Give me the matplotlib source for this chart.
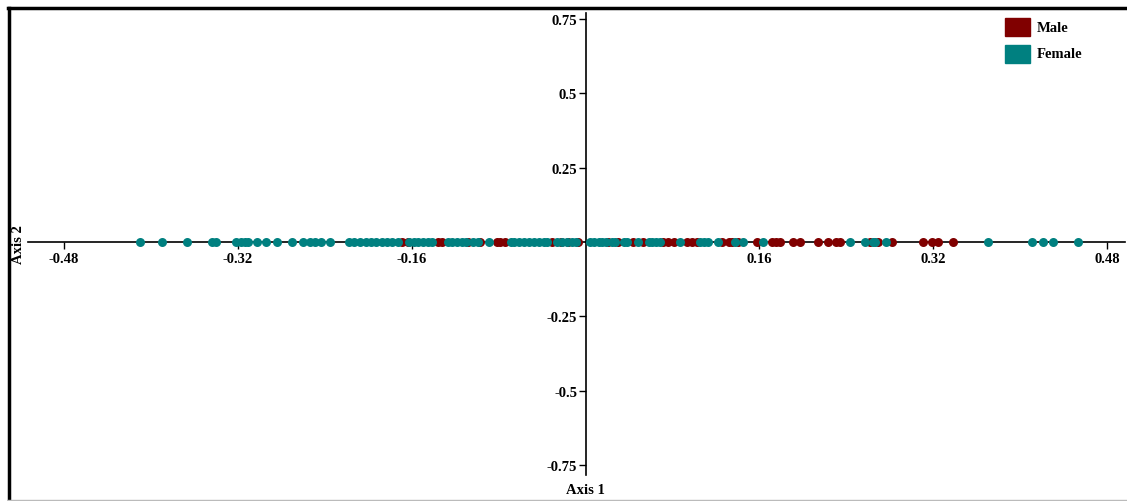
import matplotlib
matplotlib.use("Agg")
import matplotlib.pyplot as plt
from matplotlib.lines import Line2D
from matplotlib.patches import Rectangle

# coordinate sull'asse 1 (tutti i punti stanno su asse 2 = 0)
femmine_x = [
    -0.410, -0.390, -0.367, -0.344, -0.340, -0.322, -0.317, -0.313, -0.311,
    -0.302, -0.294, -0.284, -0.270, -0.260, -0.254, -0.249, -0.243, -0.235,
    -0.218, -0.213, -0.208, -0.202, -0.197, -0.193, -0.187, -0.183, -0.178,
    -0.173, -0.162, -0.158, -0.154, -0.150, -0.145, -0.141, -0.127, -0.123,
    -0.118, -0.114, -0.110, -0.104, -0.099, -0.089, -0.069, -0.066, -0.061,
    -0.057, -0.052, -0.047, -0.043, -0.038, -0.035, -0.026, -0.022, -0.017,
    -0.012, -0.009, 0.004, 0.008, 0.012, 0.015, 0.019, 0.024, 0.027, 0.035,
    0.038, 0.048, 0.058, 0.061, 0.065, 0.069, 0.087, 0.105, 0.109, 0.113,
    0.122, 0.138, 0.145, 0.163, 0.243, 0.257, 0.265, 0.266, 0.277, 0.370,
    0.411, 0.421, 0.430, 0.453,
]
maschi_x = [
    -0.169, -0.163, -0.136, -0.132, -0.108, -0.097, -0.081, -0.079, -0.074,
    -0.031, -0.023, -0.016, -0.007, 0.021, 0.030, 0.044, 0.053, 0.071, 0.076,
    0.081, 0.093, 0.098, 0.103, 0.126, 0.132, 0.135, 0.140, 0.158, 0.172,
    0.175, 0.179, 0.191, 0.197, 0.214, 0.223, 0.231, 0.234, 0.262, 0.269,
    0.282, 0.311, 0.319, 0.324, 0.338,
]
x_ticks = [-0.48, -0.32, -0.16, 0.16, 0.32, 0.48]
y_ticks = [-0.75, -0.5, -0.25, 0.25, 0.5, 0.75]
y_labels = ["-0.75", "-0.5", "-0.25", "0.25", "0.5", "0.75"]

colore_m = "#800000"
colore_f = "#008080"
font = {"family": "Liberation Serif", "weight": "bold", "size": 10.5}

W, H = 1127, 502
fig = plt.figure(figsize=(W / 100, H / 100), dpi=100)
ax = fig.add_axes([0, 0, 1, 1])
ax.patch.set_alpha(0)

# limiti ricavati dalla scala in pixel del riferimento
sx, x0 = 1086.5, 585.5
sy, y0 = 297.3, 243
ax.set_xlim(-x0 / sx, (W - x0) / sx)
ax.set_ylim(-(H - y0) / sy, y0 / sy)

ax.scatter(maschi_x, [0] * len(maschi_x), s=42, color=colore_m, zorder=3, linewidths=0)
ax.scatter(femmine_x, [0] * len(femmine_x), s=42, color=colore_f, zorder=3, linewidths=0)

for lato in ["top", "right"]:
    ax.spines[lato].set_visible(False)
ax.spines["left"].set_position(("data", 0))
ax.spines["bottom"].set_position(("data", 0))
ax.spines["left"].set_bounds(-(476 - y0) / sy, (y0 - 14) / sy)
ax.spines["bottom"].set_bounds((28 - x0) / sx, (1125 - x0) / sx)
for lato in ["left", "bottom"]:
    ax.spines[lato].set_linewidth(1.2)
    ax.spines[lato].set_zorder(2)

ax.set_xticks(x_ticks)
ax.set_xticklabels([f"{v:.2f}" for v in x_ticks], fontdict=font)
ax.set_yticks(y_ticks)
ax.set_yticklabels(y_labels, fontdict=font)
ax.tick_params(axis="x", direction="out", length=5, width=1, pad=2)
ax.tick_params(axis="y", direction="out", length=5, width=1, pad=1)

fig.text(585 / W, 1 - 491 / H, "Axis 1", ha="center", va="center", **font)
fig.text(18 / W, 1 - 245 / H, "Axis 2", ha="center", va="center", rotation=90, **font)

# legenda manuale
for i, (nome, col) in enumerate([("Male", colore_m), ("Female", colore_f)]):
    yc = 28 + i * 27
    fig.patches.append(Rectangle(((1005) / W, 1 - (yc + 9) / H), 25 / W, 18 / H,
                                 transform=fig.transFigure, color=col, figure=fig))
    fig.text(1037 / W, 1 - yc / H, nome, ha="left", va="center", **font)

# cornice
fig.lines.append(Line2D([8 / W, 1], [1 - 8.5 / H] * 2, transform=fig.transFigure,
                        color="black", linewidth=2.5))
fig.lines.append(Line2D([8.5 / W] * 2, [0, 1 - 8.5 / H], transform=fig.transFigure,
                        color="black", linewidth=2.5))
fig.lines.append(Line2D([8 / W, 1], [1 - 500.5 / H] * 2, transform=fig.transFigure,
                        color="#bbbbbb", linewidth=1))

fig.savefig("out.png", dpi=100)
